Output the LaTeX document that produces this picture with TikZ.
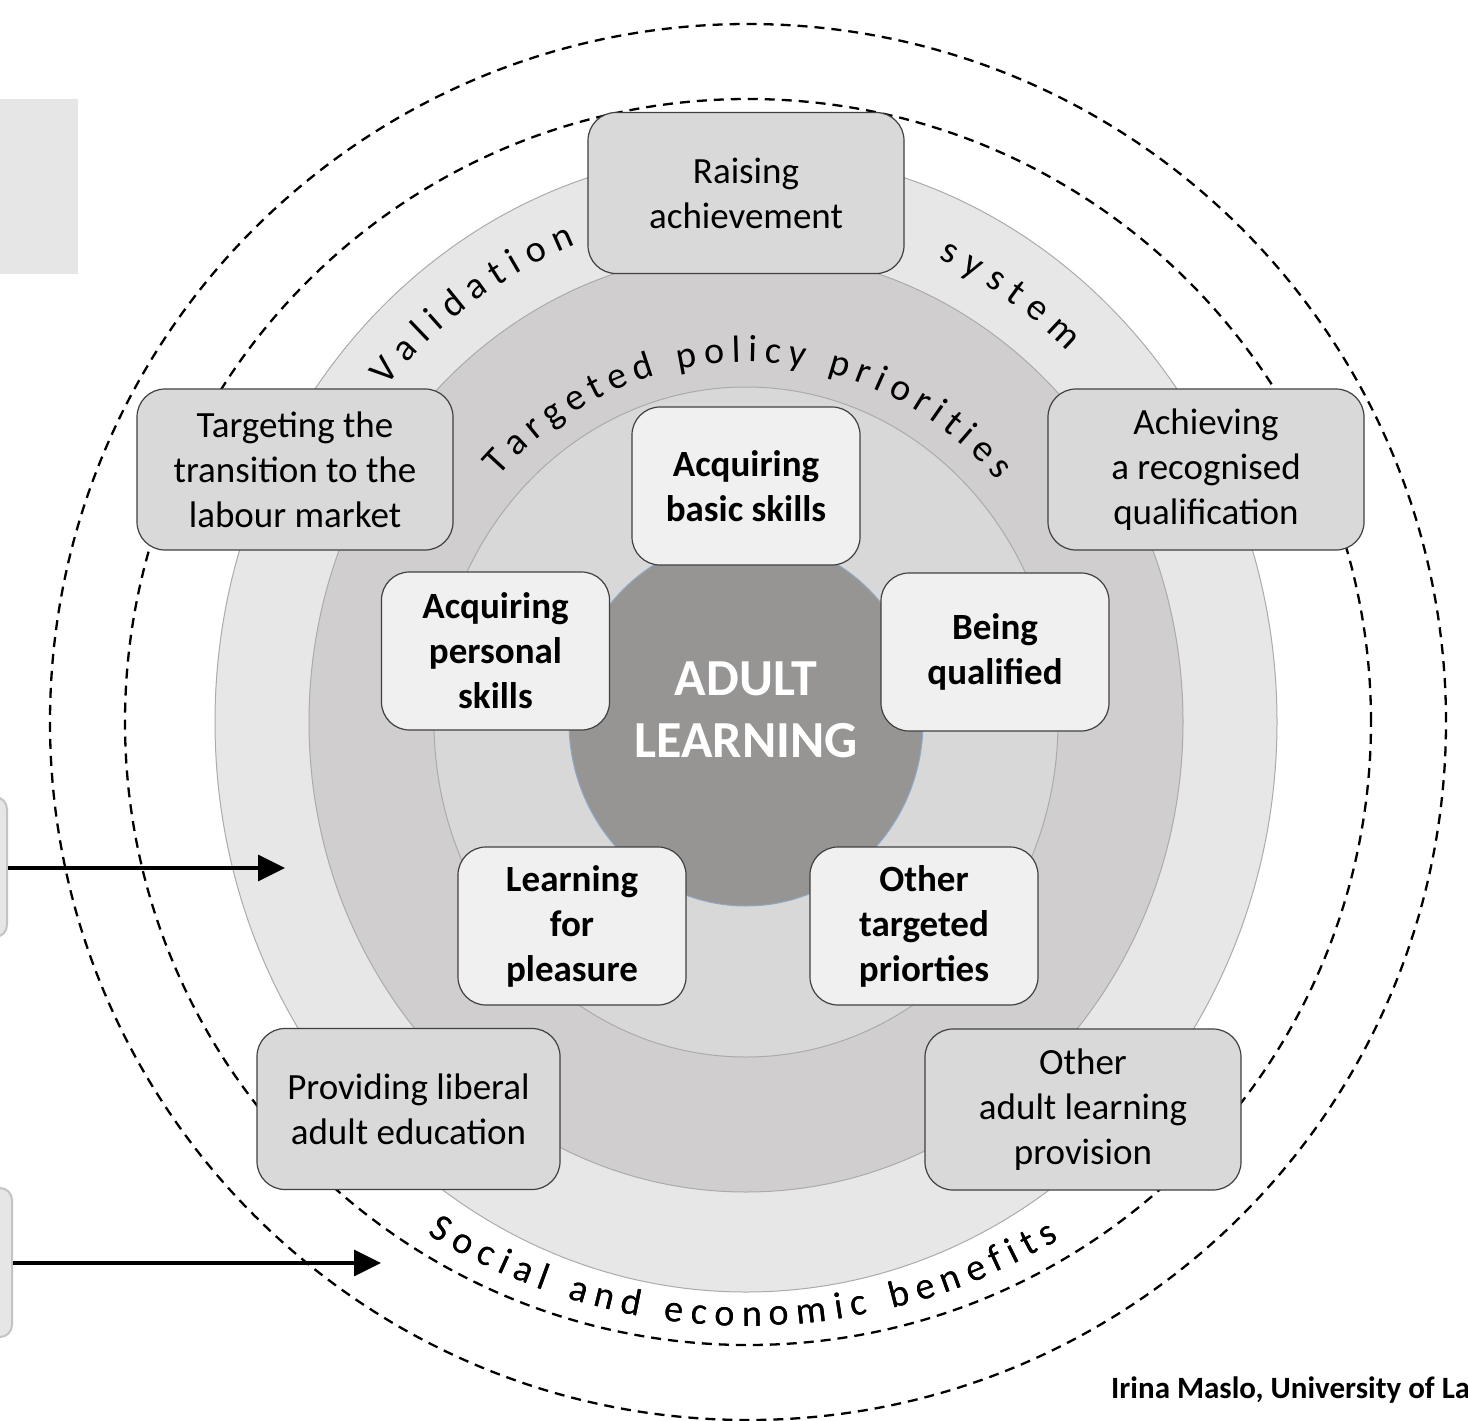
\documentclass[tikz,border=0pt]{standalone}
\usepackage{fontspec}
\setmainfont{Carlito}
\usepackage{tikz}
\usetikzlibrary{arrows.meta}
\usetikzlibrary{decorations.text}
\usetikzlibrary{calc}
\usepackage{xcolor}

\definecolor{ringline}{HTML}{ABABAB}
\definecolor{outerring}{HTML}{E7E7E7}
\definecolor{midring}{HTML}{D0CECF}
\definecolor{innerring}{HTML}{D8D8D8}
\definecolor{corefill}{HTML}{979594}
\definecolor{coreline}{HTML}{8EA9C8}
\definecolor{outerfill}{HTML}{D9D9D9}
\definecolor{innerfill}{HTML}{F0F0F0}
\definecolor{boxline}{HTML}{404040}
\definecolor{sidefill}{HTML}{E6E6E6}
\definecolor{sideline}{HTML}{C4C4C4}
\definecolor{shade}{HTML}{C4C4C4}

\newcommand\boxfont{\fontsize{37}{45}\selectfont}
\newcommand\corefont{\fontsize{52}{62}\selectfont\bfseries}
\newcommand\arcfont{\fontsize{38}{44}\selectfont}
\newcommand\creditfont{\fontsize{31}{35}\selectfont\bfseries}

\tikzset{
  ring/.style={draw=ringline, line width=1pt},
  outerbox/.style={draw=boxline, line width=1.2pt, fill=outerfill, rounded corners=28pt,
    minimum width=316pt, minimum height=161pt, inner sep=0pt, align=center, font=\boxfont},
  innerbox/.style={outerbox, fill=innerfill, minimum width=228pt, minimum height=158pt,
    font=\boxfont\bfseries},
  guide/.style={draw=black, line width=2.3pt, dash pattern=on 10pt off 7pt},
  sidebox/.style={draw=sideline, line width=2pt, fill=sidefill, rounded corners=12pt,
    minimum width=54pt, inner sep=0pt},
  feed/.style={line width=3.5pt, -{Triangle[length=27pt,width=26pt]}},
}

\begin{document}
\begin{tikzpicture}[x=1pt,y=1pt]
  \clip (0,0) rectangle (1468,-1421);
  \fill[white] (0,0) rectangle (1468,-1421);
  \coordinate (c) at (746,-722);
  \coordinate (o) at (748,-722);

  % rings
  \filldraw[ring, fill=outerring] (c) ellipse [x radius=531, y radius=570];
  \filldraw[ring, fill=midring] (c) ellipse [x radius=437, y radius=470];
  \filldraw[ring, fill=innerring] (c) ellipse [x radius=312, y radius=335];
  \filldraw[draw=coreline, line width=1pt, fill=corefill] (c) ellipse [x radius=177, y radius=184];

  % curved labels
  \path[decorate, decoration={text along path, text align=fit to path,
      text={|\arcfont|Validation}}]
    ($(c)+(139:476 and 511)$) arc [start angle=139, end angle=111, x radius=476, y radius=511];
  \path[decorate, decoration={text along path, text align=fit to path,
      text={|\arcfont|system}}]
    ($(c)+(66:472 and 507)$) arc [start angle=66, end angle=47, x radius=472, y radius=507];
  \path[decorate, decoration={text along path, text align=fit to path,
      text={|\arcfont|Targeted policy priorities}}]
    ($(c)+(137:338 and 360)$) arc [start angle=137, end angle=42, x radius=338, y radius=360];
  \path[shift={(3,-4)}, color=shade, decorate, decoration={text along path, text align=fit to path,
      text={|\arcfont|Social and economic benefits}}]
    ($(o)+(238:604)$) arc [start angle=238, end angle=301, radius=604];
  \path[decorate, decoration={text along path, text align=fit to path,
      text={|\arcfont|Social and economic benefits}}]
    ($(o)+(238:604)$) arc [start angle=238, end angle=301, radius=604];

  % dashed borders
  \draw[guide] (o) circle [radius=623];
  \draw[guide] (o) circle [radius=698];

  % outer boxes
  \node[outerbox] (raise) at (746,-193) {Raising\\achievement};
  \node[outerbox] (transition) at (295,-469.5) {Targeting the\\transition to the\\labour market};
  \node[outerbox] (recognised) at (1206,-469.5) {Achieving\\a recognised\\qualification};
  \node[outerbox, minimum width=303pt] (liberal) at (408.5,-1109) {Providing liberal\\adult education};
  \node[outerbox] (provision) at (1083,-1109.5) {Other\\adult learning\\provision};

  % inner boxes
  \node[innerbox] (basic) at (746,-486) {Acquiring\\basic skills};
  \node[innerbox] (personal) at (495.5,-651) {Acquiring\\personal\\skills};
  \node[innerbox] (qualified) at (995,-652) {Being\\qualified};
  \node[innerbox] (pleasure) at (572,-926) {Learning\\for\\pleasure};
  \node[innerbox] (othertarget) at (924,-926) {Other\\targeted\\priorties};

  \node[align=center, text=white, font=\corefont] (adult) at (746,-710) {ADULT\\LEARNING};

  % left side
  \fill[sidefill] (-10,-99) rectangle (78,-274);
  \node[sidebox, minimum height=140pt] (lbox1) at (-20,-867) {};
  \node[sidebox, minimum height=149pt] (lbox2) at (-15,-1262.5) {};
  \coordinate (tip1) at (285,-868);
  \coordinate (tip2) at (381,-1263);
  \draw[feed] (lbox1.east |- tip1) -- (tip1);
  \draw[feed] (lbox2.east |- tip2) -- (tip2);

  \node[anchor=base west, font=\creditfont, inner sep=0pt] (credit) at (1111,-1398) {Irina Maslo, University of La};
\end{tikzpicture}
\end{document}
